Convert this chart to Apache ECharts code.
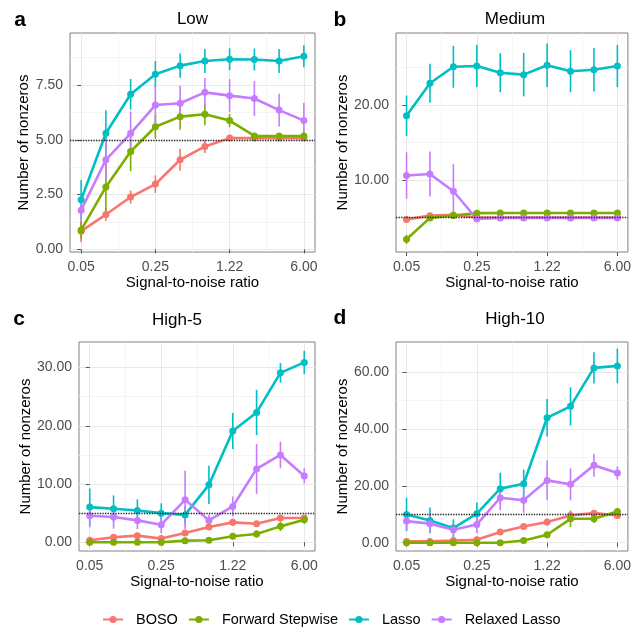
<!DOCTYPE html>
<html><head><meta charset="utf-8">
<script src="https://cdn.jsdelivr.net/npm/echarts@6/dist/echarts.min.js"></script>
<style>html,body{margin:0;padding:0;background:#fff}#c{width:634px;height:629px}</style>
</head><body><div id="c"></div>
<script>
// ---------- DATA ----------
const methods = ['BOSO', 'Forward Stepwise', 'Lasso', 'Relaxed Lasso'];
const snrLabels = ['0.05','0.09','0.14','0.25','0.42','0.71','1.22','2.07','3.52','6.00'];
const xMajorTicks = [0, 3, 6, 9];
const xMinorTicks = [1.5, 4.5, 7.5];
const panelTitles = ['Low', 'Medium', 'High-5', 'High-10'];
const panelLetters = ['a', 'b', 'c', 'd'];
const truthLines = [5, 5, 5, 10];

// Panel a: Low
const lowBOSO       = [0.83,1.59,2.39,2.98,4.09,4.70,5.08,5.08,5.08,5.08];
const lowBOSOErr    = [0.5,0.3,0.3,0.4,0.5,0.3,0.05,0.05,0.05,0.05];
const lowFS         = [0.88,2.85,4.47,5.60,6.06,6.17,5.88,5.18,5.18,5.18];
const lowFSErr      = [0.4,1.15,0.9,0.55,0.6,0.5,0.3,0.1,0.1,0.1];
const lowLasso      = [2.27,5.30,7.08,8.00,8.39,8.60,8.68,8.67,8.60,8.82];
const lowLassoErr   = [0.9,1.05,0.7,0.6,0.55,0.55,0.5,0.5,0.55,0.5];
const lowRelaxed    = [1.79,4.09,5.30,6.59,6.67,7.17,7.02,6.89,6.36,5.88];
const lowRelaxedErr = [0.5,0.9,1.0,0.9,0.8,0.65,0.75,0.8,0.75,0.8];
const lowYTicks = [0, 2.5, 5, 7.5];
const lowYMinor = [1.25, 3.75, 6.25, 8.75];

// Panel b: Medium
const medBOSO       = [4.75,5.25,5.35,5.0,5.0,5.0,5.0,5.0,5.0,5.0];
const medBOSOErr    = [0.3,0.3,0.3,0.1,0.1,0.1,0.1,0.1,0.1,0.1];
const medFS         = [2.1,4.95,5.27,5.58,5.6,5.6,5.6,5.6,5.6,5.6];
const medFSErr      = [0.6,0.3,0.2,0.1,0.1,0.1,0.1,0.1,0.1,0.1];
const medLasso      = [18.56,22.9,25.1,25.2,24.3,24.05,25.3,24.5,24.7,25.2];
const medLassoErr   = [2.7,2.6,2.8,2.8,2.6,2.9,2.9,2.8,2.9,2.8];
const medRelaxed    = [10.6,10.8,8.5,4.8,4.95,4.95,4.95,4.95,4.95,4.95];
const medRelaxedErr = [3.1,3.0,3.6,0.2,0.1,0.1,0.1,0.1,0.1,0.1];
const medYTicks = [10, 20];
const medYMinor = [5, 15, 25];

// Panel c: High-5
const h5BOSO        = [0.34,0.85,1.14,0.63,1.6,2.62,3.42,3.19,4.16,4.16];
const h5BOSOErr     = [0.4,0.4,0.5,0.4,0.5,0.5,0.6,0.5,0.5,0.5];
const h5FS          = [0,0,0,0,0.28,0.34,1.03,1.42,2.73,3.87];
const h5FSErr       = [0.05,0.05,0.05,0.05,0.3,0.3,0.5,0.6,0.8,0.7];
const h5Lasso       = [6.04,5.75,5.47,5.0,4.7,9.86,19.1,22.3,29.1,30.9];
const h5LassoErr    = [3.2,2.3,1.9,1.7,1.5,3.3,3.1,3.9,1.7,2.0];
const h5Relaxed     = [4.56,4.33,3.76,3.02,7.29,3.76,6.15,12.6,15.0,11.4];
const h5RelaxedErr  = [2.0,2.0,1.5,1.5,5.0,1.0,1.7,4.3,2.3,1.3];
const h5YTicks = [0, 10, 20, 30];
const h5YMinor = [5, 15, 25];

// Panel d: High-10
const h10BOSO       = [0.47,0.47,0.8,1.05,3.75,5.7,7.26,9.6,10.4,9.6];
const h10BOSOErr    = [0.5,0.5,0.6,0.8,1.0,1.0,1.2,1.2,1.0,1.0];
const h10FS         = [0,0,0,0,0,0.8,2.8,8.4,8.4,11.0];
const h10FSErr      = [0.1,0.1,0.1,0.1,0.1,0.5,1.0,2.9,1.5,1.0];
const h10Lasso      = [9.95,7.85,5.15,10.2,19.0,20.7,43.9,47.9,61.4,62.1];
const h10LassoErr   = [5.8,4.5,3.1,3.9,5.6,5.0,6.6,6.7,5.5,6.1];
const h10Relaxed    = [7.6,6.7,4.57,6.44,15.8,14.9,21.9,20.5,27.2,24.5];
const h10RelaxedErr = [3.2,3.0,2.5,3.0,4.4,4.4,7.0,5.6,4.0,2.3];
const h10YTicks = [0, 20, 40, 60];
const h10YMinor = [10, 30, 50];

// ---------- ASSEMBLY ----------
const panelData = [
  { means: [lowBOSO, lowFS, lowLasso, lowRelaxed], errs: [lowBOSOErr, lowFSErr, lowLassoErr, lowRelaxedErr], yTicks: lowYTicks, yMinor: lowYMinor },
  { means: [medBOSO, medFS, medLasso, medRelaxed], errs: [medBOSOErr, medFSErr, medLassoErr, medRelaxedErr], yTicks: medYTicks, yMinor: medYMinor },
  { means: [h5BOSO, h5FS, h5Lasso, h5Relaxed], errs: [h5BOSOErr, h5FSErr, h5LassoErr, h5RelaxedErr], yTicks: h5YTicks, yMinor: h5YMinor },
  { means: [h10BOSO, h10FS, h10Lasso, h10Relaxed], errs: [h10BOSOErr, h10FSErr, h10LassoErr, h10RelaxedErr], yTicks: h10YTicks, yMinor: h10YMinor }
];

// ---------- LAYOUT / STYLE ----------
const FONT = '"Liberation Sans", Arial, Helvetica, sans-serif';
const colors = ['#F8766D', '#7CAE00', '#00BFC4', '#C77CFF'];
const layout = [
  { grid: {left: 70,  top: 33,  width: 245, height: 219}, ymin: -0.12, ymax: 9.88, yNameGap: 37, title: [192.5, 19.5], letter: [20, 20] },
  { grid: {left: 396, top: 33,  width: 235, height: 219}, ymin: 0.4,   ymax: 29.6, yNameGap: 44, title: [515, 19.5],   letter: [340, 20] },
  { grid: {left: 79,  top: 342, width: 236, height: 209}, ymin: -1.5,  ymax: 34.4, yNameGap: 44, title: [177, 320],    letter: [19, 319] },
  { grid: {left: 396, top: 342, width: 235, height: 209}, ymin: -2.9,  ymax: 70.5, yNameGap: 44, title: [515, 319],    letter: [340, 318] }
];

const grids = [], xAxes = [], yAxes = [], series = [], graphics = [];
const tickLabelStyle = { fontSize: 14, color: '#4d4d4d', fontFamily: FONT };

layout.forEach((L, i) => {
  const P = panelData[i];
  grids.push(Object.assign({ show: true, borderColor: '#808080', borderWidth: 1, backgroundColor: '#fff' }, L.grid));
  // main x axis
  xAxes.push({
    type: 'value', gridIndex: i, position: 'bottom', min: -0.45, max: 9.45,
    axisLine: { show: false },
    axisTick: { show: true, length: 4, customValues: xMajorTicks, lineStyle: { color: '#555', width: 1 } },
    axisLabel: Object.assign({ customValues: xMajorTicks, margin: 8, formatter: v => snrLabels[Math.round(v)] }, tickLabelStyle),
    splitLine: { show: true, lineStyle: { color: '#e8e8e8', width: 1 } },
    name: 'Signal-to-noise ratio', nameLocation: 'middle', nameGap: 18,
    nameTextStyle: { fontSize: 15, color: '#000', fontFamily: FONT }
  });
  // minor x grid
  xAxes.push({
    type: 'value', gridIndex: i, position: 'top', min: -0.45, max: 9.45,
    axisLine: { show: false }, axisLabel: { show: false },
    axisTick: { show: false, customValues: xMinorTicks },
    splitLine: { show: true, lineStyle: { color: '#f2f2f2', width: 0.8 } }
  });
  // main y axis
  yAxes.push({
    type: 'value', gridIndex: i, position: 'left', min: L.ymin, max: L.ymax,
    axisLine: { show: false },
    axisTick: { show: true, length: 4, customValues: P.yTicks, lineStyle: { color: '#555', width: 1 } },
    axisLabel: Object.assign({ customValues: P.yTicks, margin: 7, formatter: v => v.toFixed(2) }, tickLabelStyle),
    splitLine: { show: true, lineStyle: { color: '#e8e8e8', width: 1 } },
    name: 'Number of nonzeros', nameLocation: 'middle', nameGap: L.yNameGap,
    nameTextStyle: { fontSize: 15, color: '#000', fontFamily: FONT }
  });
  // minor y grid
  yAxes.push({
    type: 'value', gridIndex: i, position: 'right', min: L.ymin, max: L.ymax,
    axisLine: { show: false }, axisLabel: { show: false },
    axisTick: { show: false, customValues: P.yMinor },
    splitLine: { show: true, lineStyle: { color: '#f2f2f2', width: 0.8 } }
  });

  const xi = 2 * i, yi = 2 * i;
  methods.forEach((m, k) => {
    const means = P.means[k], errs = P.errs[k];
    series.push({
      name: m + ' error', type: 'custom', xAxisIndex: xi, yAxisIndex: yi, z: 2,
      data: means.map((v, j) => [j, v - errs[j], v + errs[j]]),
      encode: { x: 0, y: [1, 2] },
      renderItem: (params, api) => {
        const x = api.value(0);
        const p1 = api.coord([x, api.value(1)]);
        const p2 = api.coord([x, api.value(2)]);
        return { type: 'line', shape: { x1: p1[0], y1: p1[1], x2: p2[0], y2: p2[1] },
                 style: { stroke: colors[k], lineWidth: 1.6 } };
      },
      silent: true
    });
    series.push({
      name: m, type: 'line', xAxisIndex: xi, yAxisIndex: yi, z: 3,
      data: means.map((v, j) => [j, v]),
      symbol: 'circle', symbolSize: 7, showSymbol: true,
      lineStyle: { width: 2.6, color: colors[k] },
      itemStyle: { color: colors[k] },
      silent: true
    });
  });
  // reference line (true number of nonzeros)
  series.push({
    name: 'truth', type: 'line', xAxisIndex: xi, yAxisIndex: yi, data: [], z: 4,
    markLine: {
      silent: true, symbol: 'none', label: { show: false },
      lineStyle: { type: 'dotted', color: '#222', width: 1.3 },
      data: [{ yAxis: truthLines[i] }]
    }
  });

  graphics.push({ type: 'text', x: L.title[0], y: L.title[1],
    style: { text: panelTitles[i], align: 'center', verticalAlign: 'middle', font: '17px ' + FONT, fill: '#000' } });
  graphics.push({ type: 'text', x: L.letter[0], y: L.letter[1],
    style: { text: panelLetters[i], align: 'center', verticalAlign: 'middle', font: 'bold 21px ' + FONT, fill: '#000' } });
});

const chart = echarts.init(document.getElementById('c'), null, { renderer: 'canvas' });
chart.setOption({
  animation: false,
  backgroundColor: '#fff',
  color: colors,
  textStyle: { fontFamily: FONT },
  grid: grids, xAxis: xAxes, yAxis: yAxes, series: series,
  graphic: graphics,
  legend: {
    data: methods, left: 102, top: 612, padding: 0, itemWidth: 20, itemHeight: 9, itemGap: 10,
    textStyle: { fontSize: 14.5, color: '#000', fontFamily: FONT, padding: [0, 0, 0, 8] },
    selectedMode: false
  }
});
</script></body></html>
